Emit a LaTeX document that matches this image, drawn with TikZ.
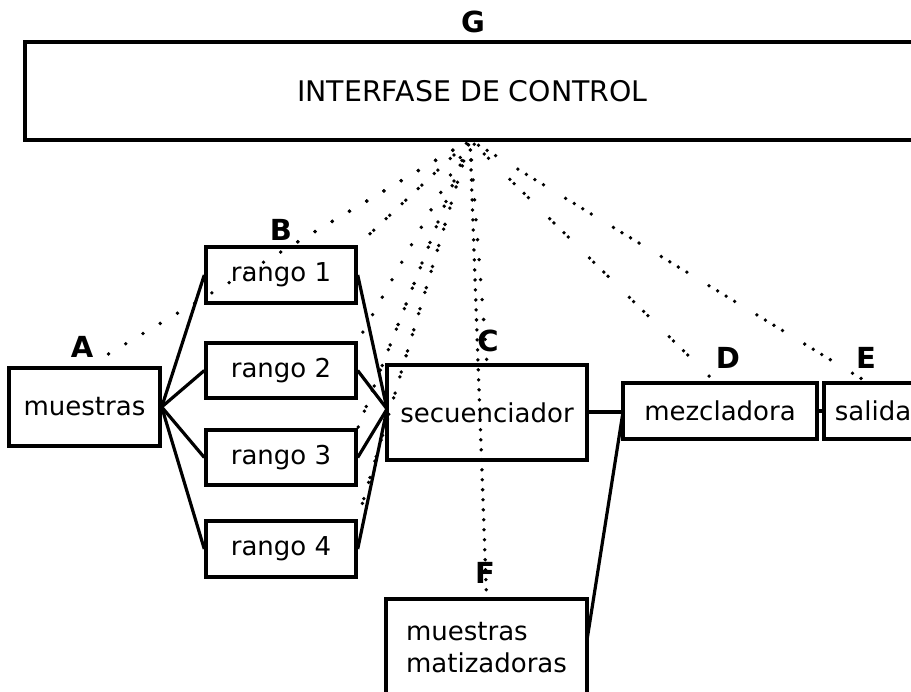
\documentclass[tikz,border=0pt]{standalone}
\usepackage{fontspec}
\newfontfamily\dv{DejaVu Sans}
\begin{document}
\begin{tikzpicture}[x=1pt,y=-1pt,
  box/.style={draw, line width=3.4pt, inner sep=0pt, font=\dv\fontsize{26}{32}\selectfont},
  tag/.style={inner sep=0pt, font=\dv\bfseries\fontsize{29}{29}\selectfont},
  wire/.style={line width=3.2pt},
  dots/.style={line width=3.8pt, line cap=round, dash pattern=on 0pt off 20pt},
  finedots/.style={line width=3.8pt, line cap=round, dash pattern=on 0pt off 10pt},
  pairdots/.style={line width=3.8pt, line cap=round, dash pattern=on 0pt off 5pt on 0pt off 17pt},
  twinpairs/.style={line width=3.8pt, line cap=round, dash pattern=on 0pt off 6pt on 0pt off 14pt on 0pt off 6pt on 0pt off 30pt},
  quads/.style={line width=3.8pt, line cap=round, dash pattern=on 0pt off 10pt on 0pt off 10pt on 0pt off 10pt on 0pt off 26pt}
]
\useasboundingbox (0,0) rectangle (911,692);

% control interface across the top
\node[box, minimum width=895pt, minimum height=98pt, font=\dv\fontsize{28.4}{32}\selectfont]
  (ctrl) at (472.5,91) {INTERFASE DE CONTROL};
\coordinate (apex) at (470,140);

% signal chain boxes
\node[box, minimum width=151pt, minimum height=78pt] (muestras) at (84.5,407) {muestras};
\node[box, minimum width=150pt, minimum height=56pt] (r1) at (281,275) {rango 1};
\node[box, minimum width=150pt, minimum height=55pt] (r2) at (281,370.5) {rango 2};
\node[box, minimum width=150pt, minimum height=55pt] (r3) at (281,457.5) {rango 3};
\node[box, minimum width=150pt, minimum height=56pt] (r4) at (281,549) {rango 4};
\node[box, minimum width=200pt, minimum height=95pt] (sec) at (487,412.5) {secuenciador};
\node[box, minimum width=194pt, minimum height=56pt] (mez) at (720,411) {mezcladora};
\node[box, minimum width=98pt, minimum height=56pt] (sal) at (873,411) {salida};
\node[box, minimum width=201pt, minimum height=97pt, align=left] (matiz) at (486.5,647.5)
  {muestras\\matizadoras};

% letter tags
\node[tag] (G) at (473,22) {G};
\node[tag] (A) at (82,347) {A};
\node[tag] (B) at (281,230) {B};
\node[tag] (C) at (488,341) {C};
\node[tag] (D) at (728,358) {D};
\node[tag] (E) at (866,358) {E};
\node[tag] (F) at (485,573) {F};

% solid signal connections
\coordinate (secin) at (387,409);
\coordinate (matizout) at (587,640);
\coordinate (mezin) at (623,412);
\foreach \r in {r1,r2,r3,r4}{
  \draw[wire] (muestras.east) -- (\r.west);
  \draw[wire] (\r.east) -- (secin);
}
\draw[wire] (sec.east |- mezin) -- (mezin);
\draw[wire] (matizout) -- (mezin);
\draw[wire] (mez.east) -- (sal.west);

% dotted control lines fanning out from the interface
\coordinate (toA) at (95,362);
\coordinate (toB) at (282,251);
\coordinate (toC) at (487,364);
\coordinate (toD) at (710,377);
\coordinate (toE) at (862,379);
\draw[dots] (apex) -- (toA);
\draw[dots] (apex) -- (toB);
\draw[pairdots] (apex) -- (r1.north east);
\draw[dots] (apex) -- (r2.north east);
\draw[pairdots] (apex) -- (r3.north east);
\draw[pairdots] (apex) -- (r4.north east);
\draw[dots] (apex) -- (toC);
\draw[finedots] (apex) -- (matiz.north);
\draw[twinpairs] (apex) -- (toD);
\draw[quads] (apex) -- (toE);
\end{tikzpicture}
\end{document}
